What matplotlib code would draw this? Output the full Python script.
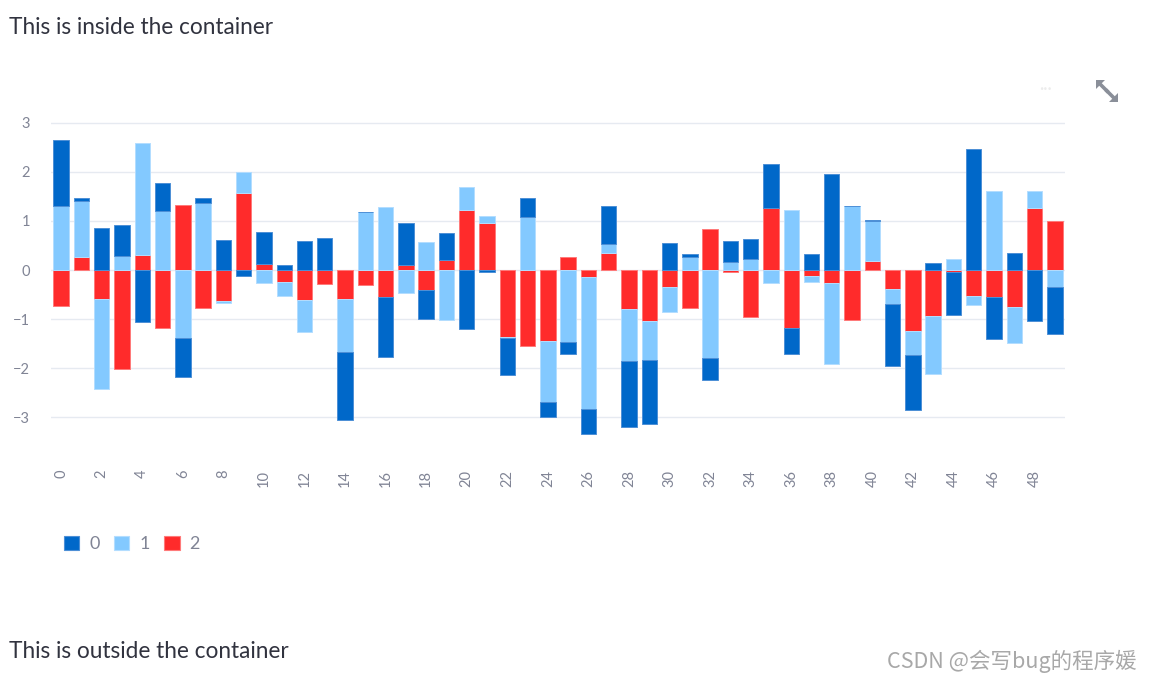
import numpy as np
import matplotlib.pyplot as plt
from matplotlib.patches import Patch, Polygon

plt.rcParams['font.family'] = ['Lato', 'DejaVu Sans']

names = ['0', '1', '2']
colors = ['#0068c9', '#83c9ff', '#ff2b2b']
edges = ['#4d8fd6', '#b3ddff', '#ff7a7a']

s0 = [1.35, 0.06, 0.86, 0.63, -1.06, 0.57, -0.79, 0.10, 0.62, -0.13,
      0.65, 0.10, 0.59, 0.66, -1.38, 0.00, -1.22, 0.86, -0.59, 0.56,
      -1.20, -0.03, -0.75, 0.38, -0.32, -0.25, -0.51, 0.77, -1.35, -1.30,
      0.56, 0.05, -0.46, 0.44, 0.42, 0.88, -0.53, 0.32, 1.96, 0.00,
      0.03, -1.25, -1.11, 0.15, -0.88, 2.46, -0.86, 0.34, -1.04, -0.96]
s1 = [1.30, 1.14, -1.84, 0.28, 2.27, 1.21, -1.39, 1.37, -0.05, 0.44,
      -0.27, -0.28, -0.65, 0.00, -1.08, 1.19, 1.29, -0.46, 0.57, -1.02,
      0.46, 0.16, -0.02, 1.08, -1.23, -1.46, -2.69, 0.20, -1.06, -0.80,
      -0.52, 0.27, -1.78, 0.16, 0.22, -0.27, 1.22, -0.11, -1.65, 1.30,
      0.80, -0.32, -0.48, -1.17, 0.22, -0.19, 1.62, -0.73, 0.34, -0.34]
s2 = [-0.74, 0.26, -0.59, -2.01, 0.31, -1.18, 1.32, -0.77, -0.63, 1.56,
      0.13, -0.24, -0.61, -0.28, -0.59, -0.31, -0.55, 0.10, -0.40, 0.20,
      1.23, 0.95, -1.37, -1.55, -1.45, 0.26, -0.14, 0.34, -0.79, -1.03,
      -0.34, -0.78, 0.83, -0.03, -0.96, 1.27, -1.17, -0.13, -0.26, -1.02,
      0.19, -0.38, -1.25, -0.94, -0.04, -0.53, -0.55, -0.75, 1.27, 1.00]
series = [s0, s1, s2]
x = np.arange(len(s0))

W, H = 1152, 681
fig = plt.figure(figsize=(W / 100, H / 100), dpi=100)
ax = fig.add_axes([51 / W, (H - 442) / H, (1065 - 51) / W, (442 - 108) / H])

# diverging stack: series 2 nearest zero, then 1, then 0
pos = np.zeros(len(x))
neg = np.zeros(len(x))
for i in [2, 1, 0]:
    v = np.array(series[i])
    bottom = np.where(v >= 0, pos, neg)
    ax.bar(x, v, bottom=bottom, width=0.76, color=colors[i],
           edgecolor=edges[i], linewidth=0.7, zorder=3)
    pos += np.clip(v, 0, None)
    neg += np.clip(v, None, 0)

ax.set_xlim(-0.5, len(x) - 0.5)
ax.set_ylim(-3.5, 3.3)
ax.set_yticks(range(-3, 4))
ax.set_xticks(range(0, len(x), 2))
ax.tick_params(axis='y', length=0, pad=15, labelsize=10.5, labelcolor='#808495')
ax.tick_params(axis='x', length=0, pad=20, labelsize=10.5, labelcolor='#808495',
               rotation=90)
for s in ax.spines.values():
    s.set_visible(False)
ax.yaxis.grid(True, color='#e6eaf1', linewidth=1)
ax.set_axisbelow(True)

handles = [Patch(facecolor=colors[i], edgecolor=edges[i], linewidth=0.8)
           for i in range(3)]
fig.legend(handles, names, loc='center left', bbox_to_anchor=(64 / W, (H - 544) / H),
           ncol=3, frameon=False, borderpad=0, borderaxespad=0,
           handlelength=0.85, handleheight=0.85, handletextpad=0.55,
           columnspacing=0.8, prop={'size': 13}, labelcolor='#808495')

fig.text(9 / W, (H - 28) / H, 'This is inside the container', fontsize=16.3,
         color='#31333f', va='center', ha='left')
fig.text(9 / W, (H - 651) / H, 'This is outside the container', fontsize=16.3,
         color='#31333f', va='center', ha='left')
fig.text(1137 / W, (H - 661) / H, 'CSDN @会写bug的程序媛', fontsize=15.5,
         color='#a8a8a8', va='center', ha='right',
         family=['Noto Sans CJK SC', 'DejaVu Sans'])
fig.text(1046 / W, (H - 89) / H, '···', fontsize=12, color='#ececec',
         va='center', ha='center')


# expand icon, drawn in figure pixels (origin top-left)
def px(pts):
    return [(a / W, (H - b) / H) for a, b in pts]


icon = '#8a8f99'
for head, stem in [([(1096, 80), (1105, 80), (1096, 89)], [(1099, 83), (1107, 91)]),
                   ([(1118, 102), (1109, 102), (1118, 93)], [(1115, 99), (1107, 91)])]:
    fig.add_artist(Polygon(px(head), closed=True, facecolor=icon, edgecolor='none',
                           transform=fig.transFigure))
    (a, b), (c, d) = px(stem)
    fig.add_artist(plt.Line2D([a, c], [b, d], color=icon, linewidth=2.6,
                              transform=fig.transFigure))

fig.savefig('out.png', dpi=100)
